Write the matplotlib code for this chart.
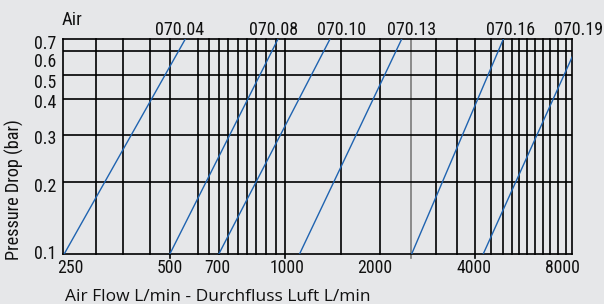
import numpy as np
import matplotlib
matplotlib.use("Agg")
from matplotlib import pyplot as plt
from matplotlib import font_manager as fm
from matplotlib.textpath import TextPath
from matplotlib.transforms import ScaledTranslation

# filter series: flow (L/min) at 0.1 bar and at 0.7 bar
SERIES_NAMES = ["070.04", "070.08", "070.10", "070.13", "070.16", "070.19"]
FLOW_LOW = [253, 500, 700, 1110, 2520, 4250]
FLOW_HIGH = [555, 960, 1385, 2340, 4950, 8920]
PRESSURE_RANGE = [0.1, 0.7]

X_TICKS = [250, 500, 700, 1000, 2000, 4000, 8000]
X_GRID = [310, 370, 440, 500, 607, 655, 700, 735, 776, 815, 856, 900, 949,
          1000, 1500, 2000, 2500, 3000, 3500, 4000, 4500, 4950, 5300, 5600,
          5950, 6300, 6700, 7100, 7550, 8000]
X_GRID_GRAY = [2500]
X_GRID_TICKED = [500, 1000, 2500, 4000]
X_LIMITS = (250, 8400)

Y_TICKS = [0.1, 0.2, 0.3, 0.4, 0.5, 0.6, 0.7]

# the printed chart is only roughly logarithmic: piecewise scale through its labels
X_SCALE_PX = [62.5, 170, 219, 285.5, 380, 475.5, 566]
Y_SCALE_PX = [0, 71.4, 118.7, 155, 179.2, 202.9, 214.4]

BG = "#e6e7e9"
BLUE = "#1f63b0"
INK = "#111111"
DPI = 100


def pick_family(names):
    have = {f.name for f in fm.fontManager.ttflist}
    for n in names:
        if n in have:
            return n
    return "DejaVu Sans"


NARROW = pick_family(["Liberation Sans Narrow", "Roboto Condensed", "PT Sans Narrow",
                      "Archivo Narrow", "Fira Sans Condensed", "DejaVu Sans Condensed"])
WIDE = pick_family(["Open Sans", "Noto Sans", "DejaVu Sans"])


def fit(family, sample, ink_px):
    # font size (pt) whose ink width of `sample` is ink_px pixels
    fp = fm.FontProperties(family=family, size=100)
    w = TextPath((0, 0), sample, prop=fp).get_extents().width
    return ink_px / (w / 100 * DPI / 72)


def piecewise(values, pixels):
    v = np.log10(values)
    p = np.asarray(pixels, float)
    s0 = (p[1] - p[0]) / (v[1] - v[0])
    s1 = (p[-1] - p[-2]) / (v[-1] - v[-2])
    v = np.r_[v[0] - 5, v, v[-1] + 5]
    p = np.r_[p[0] - 5 * s0, p, p[-1] + 5 * s1]

    def forward(x):
        return np.interp(np.log10(np.maximum(np.asarray(x, float), 1e-12)), v, p)

    def inverse(x):
        return 10 ** np.interp(np.asarray(x, float), p, v)
    return forward, inverse


# the print uses a tighter condensed face: a bit wider, to get closer in height
fs_series = fit(NARROW, "070.04", 45) * 1.06
fs_xtick = fit(NARROW, "1000", 28.5) * 1.14
fs_ytick = fit(NARROW, "0.7", 19) * 1.08
fs_air = fit(NARROW, "Air", 18.3) * 1.08
fs_ylabel = fit(NARROW, "Pressure Drop (bar)", 136) * 1.02
fs_xlabel = fit(WIDE, "Air Flow L/min - Durchfluss Luft L/min", 303)

fig = plt.figure(figsize=(6.04, 3.04), dpi=DPI, facecolor=BG)
ax = fig.add_axes([62.5 / 604, 50.3 / 304, 509.8 / 604, 214.4 / 304])
ax.set_facecolor(BG)

ax.set_xscale("function", functions=piecewise(X_TICKS, X_SCALE_PX))
ax.set_yscale("function", functions=piecewise(Y_TICKS, Y_SCALE_PX))
ax.set_xlim(*X_LIMITS)
ax.set_ylim(PRESSURE_RANGE[0], PRESSURE_RANGE[1])

for x in X_GRID:
    ymin = -4 / 214.4 if x in X_GRID_TICKED else 0
    color = "#7a7a7a" if x in X_GRID_GRAY else "black"
    ax.axvline(x, ymin=ymin, ymax=1, color=color, lw=1.2, clip_on=False, zorder=1)
for y in Y_TICKS[1:-1]:
    ax.axhline(y, color="black", lw=1.2, zorder=1)
for s in ax.spines.values():
    s.set_linewidth(1.2)
    s.set_zorder(2)

label_dx = [-6, -4, 11.5, 10, 7, -2]
for name, lo, hi, dx in zip(SERIES_NAMES, FLOW_LOW, FLOW_HIGH, label_dx):
    ax.plot([lo, hi], PRESSURE_RANGE, color=BLUE, lw=1.0, zorder=3)
    ax.annotate(name, xy=(hi, PRESSURE_RANGE[1]), xytext=(dx * 0.72, 3.3),
                textcoords="offset points", ha="center", va="baseline",
                family=NARROW, fontsize=fs_series, color=INK, annotation_clip=False)

ax.set_xticks(X_TICKS)
ax.set_xticklabels([str(v) for v in X_TICKS], family=NARROW, fontsize=fs_xtick)
ax.xaxis.set_minor_locator(matplotlib.ticker.NullLocator())
ax.tick_params(axis="x", length=0, pad=4.0, colors=INK)
ax.set_yticks(Y_TICKS)
ax.set_yticklabels([f"{v:.1f}" for v in Y_TICKS], family=NARROW, fontsize=fs_ytick)
ax.yaxis.set_minor_locator(matplotlib.ticker.NullLocator())
ax.tick_params(axis="y", length=0, pad=4.2, colors=INK)

# nudge labels where the print places them off their lines
x_shift = {250: 7.5, 700: -1.5, 1000: 2, 2000: -5, 4000: -1.5, 8000: -3}
for v, lab in zip(X_TICKS, ax.get_xticklabels()):
    d = x_shift.get(v, 0)
    lab.set_transform(lab.get_transform() + ScaledTranslation(d / DPI, 0, fig.dpi_scale_trans))
y_shift = [2, -3, -2, -2, -6, -9, -2.5]
for d, lab in zip(y_shift, ax.get_yticklabels()):
    lab.set_transform(lab.get_transform() + ScaledTranslation(0, d / DPI, fig.dpi_scale_trans))

fig.text(61.5 / 604, 1 - 25 / 304, "Air", family=NARROW, fontsize=fs_air,
         ha="left", va="baseline", color=INK)
fig.text(14 / 604, 1 - 190 / 304, "Pressure Drop (bar)", family=NARROW,
         fontsize=fs_ylabel, rotation=90, ha="center", va="center", color=INK)
fig.text(65 / 604, 1 - 300.8 / 304, "Air Flow L/min - Durchfluss Luft L/min",
         family=WIDE, fontsize=fs_xlabel, ha="left", va="baseline", color=INK)

fig.savefig("out.png", dpi=DPI, facecolor=BG)
